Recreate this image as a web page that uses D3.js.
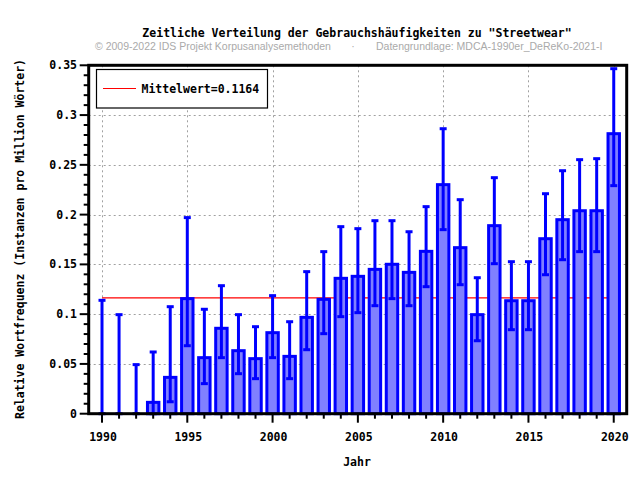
<!DOCTYPE html>
<html><head><meta charset="utf-8">
<script src="https://cdn.jsdelivr.net/npm/d3@7"></script>
<style>
body{margin:0;background:#fff;}
svg{display:block;}
.mono{font-family:"DejaVu Sans Mono",monospace;font-weight:bold;font-size:11.5px;}
</style></head>
<body>
<svg id="chart" width="640" height="480"></svg>
<script>
const years = [1990,1991,1992,1993,1994,1995,1996,1997,1998,1999,2000,2001,2002,2003,2004,2005,2006,2007,2008,2009,2010,2011,2012,2013,2014,2015,2016,2017,2018,2019,2020];
const values = [0,0,0,0.0114,0.0365,0.1156,0.0563,0.0858,0.0633,0.0553,0.0814,0.0576,0.0968,0.1149,0.136,0.138,0.145,0.1501,0.142,0.1631,0.2301,0.1668,0.0995,0.1889,0.1135,0.1135,0.1758,0.1949,0.2039,0.2039,0.2813];
const errLow = [0,0,0,0,0.012,0.0683,0.0302,0.0563,0.0402,0.0352,0.0563,0.0352,0.0643,0.0804,0.0975,0.1015,0.1085,0.1156,0.1085,0.1276,0.1849,0.1296,0.0733,0.1507,0.0844,0.0844,0.1396,0.1547,0.1628,0.1628,0.2291];
const errHigh = [0.1139,0.0995,0.0493,0.062,0.1075,0.197,0.1049,0.1286,0.0995,0.0874,0.1186,0.0924,0.1427,0.1628,0.1879,0.1859,0.1939,0.1939,0.1828,0.208,0.2863,0.215,0.1366,0.2371,0.1527,0.1527,0.221,0.2441,0.2552,0.2562,0.3466];
const meanValue = 0.1164;
const yTicks = [0,0.05,0.1,0.15,0.2,0.25,0.3,0.35];
const yTickLabels = ["0","0.05","0.1","0.15","0.2","0.25","0.3","0.35"];
const xTicks = [1990,1995,2000,2005,2010,2015,2020];
const titleText = "Zeitliche Verteilung der Gebrauchshäufigkeiten zu \"Streetwear\"";
const subLeft = "© 2009-2022 IDS Projekt Korpusanalysemethoden";
const subRight = "Datengrundlage: MDCA-1990er_DeReKo-2021-I";
const xTitle = "Jahr";
const yTitle = "Relative Wortfrequenz (Instanzen pro Million Wörter)";
const legendText = "Mittelwert=0.1164";

const svg = d3.select("#chart");
const L = 88.7, R = 626.7, T = 65.3, B = 413.7;
const x = d3.scaleLinear().domain([1989.22, 2020.76]).range([L, R]);
const y = d3.scaleLinear().domain([0, 0.35]).range([B, T]);
const data = years.map((yr,i)=>({yr, v:values[i], lo:errLow[i], hi:errHigh[i]}));

// grid
const grid = svg.append("g").attr("stroke","#a0a0a0").attr("stroke-width",1).attr("stroke-dasharray","2,3");
yTicks.filter(t=>t>0 && t<0.35).forEach(t=>{
  grid.append("line").attr("x1",L).attr("x2",R).attr("y1",Math.round(y(t))+0.5).attr("y2",Math.round(y(t))+0.5);
});
xTicks.forEach(t=>{
  grid.append("line").attr("x1",Math.round(x(t))+0.5).attr("x2",Math.round(x(t))+0.5).attr("y1",T).attr("y2",B);
});

// mean line
svg.append("line").attr("x1",x(1990)).attr("x2",x(2020)).attr("y1",y(meanValue)).attr("y2",y(meanValue))
  .attr("stroke","#ff0000").attr("stroke-width",1.2);

// bars
const bw = 0.67;
svg.append("g").selectAll("rect").data(data.filter(d=>d.v>0)).join("rect")
  .attr("x",d=>x(d.yr - bw/2)).attr("width",d=>x(d.yr+bw/2)-x(d.yr-bw/2))
  .attr("y",d=>y(d.v)).attr("height",d=>y(0)-y(d.v))
  .attr("fill","#8080ff").attr("stroke","#0000ff").attr("stroke-width",3);

// error bars
const eb = svg.append("g").attr("stroke","#0000ff").attr("stroke-width",3);
data.forEach(d=>{
  const cx = x(d.yr);
  eb.append("line").attr("x1",cx).attr("x2",cx).attr("y1",y(d.lo)).attr("y2",y(d.hi));
  eb.append("line").attr("x1",cx-3.5).attr("x2",cx+3.5).attr("y1",y(d.lo)).attr("y2",y(d.lo));
  eb.append("line").attr("x1",cx-3.5).attr("x2",cx+3.5).attr("y1",y(d.hi)).attr("y2",y(d.hi));
});

// axes ticks
const ax = svg.append("g").attr("stroke","#000").attr("stroke-width",2);
d3.range(0,0.3501,0.01).forEach(t=>{
  const major = Math.abs(Math.round(t*100)%5)===0;
  ax.append("line").attr("x1",L-(major?9:5)).attr("x2",L).attr("y1",y(t)).attr("y2",y(t));
});
d3.range(1990,2021).forEach(t=>{
  const major = t%5===0;
  ax.append("line").attr("x1",x(t)).attr("x2",x(t)).attr("y1",B).attr("y2",B+(major?9:5));
});
// frame
svg.append("rect").attr("x",L).attr("y",T).attr("width",R-L).attr("height",B-T)
  .attr("fill","none").attr("stroke","#000").attr("stroke-width",3);

// tick labels
svg.append("g").selectAll("text").data(yTicks).join("text").attr("class","mono")
  .attr("x",77).attr("y",d=>y(d)).attr("dy","0.35em").attr("text-anchor","end")
  .text((d,i)=>yTickLabels[i]);
svg.append("g").selectAll("text").data(xTicks).join("text").attr("class","mono")
  .attr("x",d=>x(d)+1).attr("y",437).attr("dy","0.35em").attr("text-anchor","middle")
  .text(d=>d);

// titles
svg.append("text").attr("class","mono").attr("x",357).attr("y",33).attr("dy","0.35em")
  .attr("text-anchor","middle").text(titleText);
const subFont = "Liberation Sans, Arial, sans-serif";
svg.append("text").attr("x",95).attr("y",46).attr("dy","0.35em")
  .attr("font-family",subFont).attr("font-size","10.5px").attr("fill","#aaaaaa")
  .text(subLeft);
svg.append("text").attr("x",353).attr("y",46).attr("dy","0.35em").attr("text-anchor","middle")
  .attr("font-family",subFont).attr("font-size","10.5px").attr("fill","#aaaaaa")
  .text("·");
svg.append("text").attr("x",376).attr("y",46).attr("dy","0.35em")
  .attr("font-family",subFont).attr("font-size","10.5px").attr("fill","#aaaaaa")
  .text(subRight);
svg.append("text").attr("class","mono").attr("x",357).attr("y",462).attr("dy","0.35em")
  .attr("text-anchor","middle").text(xTitle);
svg.append("text").attr("class","mono").attr("transform","translate(20,239) rotate(-90)")
  .attr("dy","0.35em").attr("text-anchor","middle").text(yTitle);

// legend
const lg = svg.append("g");
lg.append("rect").attr("x",96.5).attr("y",69.5).attr("width",171).attr("height",38.5)
  .attr("fill","#fff").attr("stroke","#000").attr("stroke-width",1.2);
lg.append("line").attr("x1",103).attr("x2",136).attr("y1",88.5).attr("y2",88.5).attr("stroke","#ff0000").attr("stroke-width",1.2);
lg.append("text").attr("class","mono").attr("x",141.5).attr("y",88.5).attr("dy","0.35em").text(legendText);
</script>
</body></html>
